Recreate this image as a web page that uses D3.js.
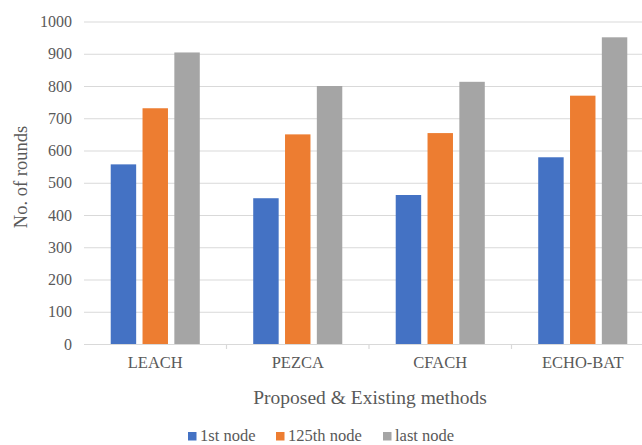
<!DOCTYPE html>
<html>
<head>
<meta charset="utf-8">
<script src="https://cdn.jsdelivr.net/npm/d3@7"></script>
<style>
  html, body { margin: 0; padding: 0; background: #fff; }
  svg { display: block; }
  text { font-family: "Liberation Serif", "Times New Roman", serif; fill: #595959; }
</style>
</head>
<body>
<svg id="chart" width="642" height="445"></svg>
<script>
// Rounds until node deaths for each clustering method
const methods = ["LEACH", "PEZCA", "CFACH", "ECHO-BAT"];
const seriesNames = ["1st node", "125th node", "last node"];
const firstNode = [557, 452, 462, 579];
const node125 = [731, 650, 654, 770];
const lastNode = [904, 800, 813, 951];
const yTicks = [0, 100, 200, 300, 400, 500, 600, 700, 800, 900, 1000];
const colors = ["#4472C4", "#ED7D31", "#A5A5A5"];

const seriesValues = [firstNode, node125, lastNode];
const serif = "'Liberation Serif', 'Times New Roman', serif";

const svg = d3.select("#chart");
const plot = { left: 84, right: 654, top: 21.5, bottom: 344 };

const x0 = d3.scaleBand().domain(methods).range([plot.left, plot.right]).paddingInner(0).paddingOuter(0);
const groupFrac = 0.625;
const inset = x0.bandwidth() * (1 - groupFrac) / 2;
const x1 = d3.scaleBand().domain(seriesNames)
  .range([inset, x0.bandwidth() - inset])
  .paddingInner(0.2).paddingOuter(0);
const y = d3.scaleLinear().domain([0, 1000]).range([plot.bottom, plot.top]);

// horizontal gridlines and value labels
const yAxis = d3.axisLeft(y).tickValues(yTicks).tickFormat(d3.format("d"))
  .tickSize(-(plot.right - plot.left)).tickPadding(12);
const gy = svg.append("g").attr("transform", `translate(${plot.left},0)`).call(yAxis)
  .attr("font-family", serif);
gy.select(".domain").remove();
gy.selectAll(".tick line").attr("stroke", "#d9d9d9").attr("stroke-width", 1.2);
gy.selectAll(".tick text").style("font-size", "16px").attr("fill", "#595959");

// bars
methods.forEach((m, i) => {
  const g = svg.append("g").attr("transform", `translate(${x0(m)},0)`);
  g.selectAll("rect")
    .data(seriesNames.map((s, k) => ({ s, v: seriesValues[k][i], c: colors[k] })))
    .join("rect")
    .attr("x", d => x1(d.s))
    .attr("y", d => y(d.v))
    .attr("width", x1.bandwidth())
    .attr("height", d => y(0) - y(d.v))
    .attr("fill", d => d.c);
});

// category axis
const xAxis = d3.axisBottom(x0).tickSize(0).tickPadding(12);
const gx = svg.append("g").attr("transform", `translate(0,${plot.bottom})`).call(xAxis)
  .attr("font-family", serif);
gx.select(".domain").attr("stroke", "#d9d9d9").attr("stroke-width", 1.2);
gx.selectAll(".tick text").style("font-size", "16.5px").attr("fill", "#595959");
// separators between categories
gx.selectAll(".sep")
  .data(methods.slice(1))
  .join("line")
  .attr("x1", d => x0(d)).attr("x2", d => x0(d))
  .attr("y1", 0).attr("y2", 5)
  .attr("stroke", "#d9d9d9").attr("stroke-width", 1.2);

// axis titles
svg.append("text")
  .attr("x", 370).attr("y", 404)
  .attr("text-anchor", "middle")
  .style("font-size", "19.5px")
  .text("Proposed & Existing methods");

svg.append("text")
  .attr("transform", "translate(27,177) rotate(-90)")
  .attr("text-anchor", "middle")
  .style("font-size", "18.5px")
  .text("No. of rounds");

// legend
const legendX = [188, 276, 383];
const legend = svg.append("g");
seriesNames.forEach((s, k) => {
  legend.append("rect")
    .attr("x", legendX[k]).attr("y", 432)
    .attr("width", 8.5).attr("height", 8.5)
    .attr("fill", colors[k]);
  legend.append("text")
    .attr("x", legendX[k] + 12).attr("y", 441)
    .style("font-size", "16.5px")
    .text(s);
});
</script>
</body>
</html>
